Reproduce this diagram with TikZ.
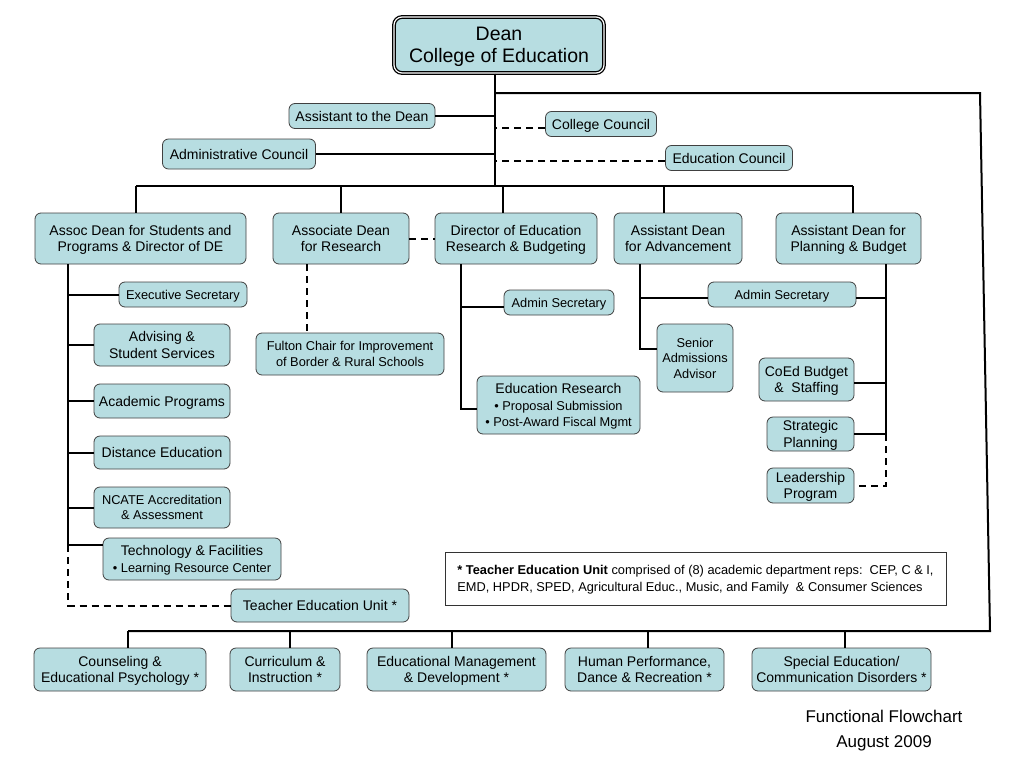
\documentclass[tikz,border=0pt]{standalone}
\usepackage{fontspec}
\setmainfont{Liberation Sans}

\definecolor{boxblue}{RGB}{183,221,225}
\newcommand{\bodysize}{\fontsize{14}{16.5}\selectfont}
\newcommand{\smallsize}{\fontsize{12.8}{15.5}\selectfont}

\tikzset{
  unit/.style={draw=black!75, line width=0.8pt, fill=boxblue, rounded corners=6pt,
    align=center, inner sep=1pt, text depth=-1.5pt, font=\bodysize},
  smallunit/.style={unit, font=\smallsize},
  boxsize/.style 2 args={minimum width=#1pt, minimum height=#2pt},
  link/.style={line width=2pt},
  dashlink/.style={link, dash pattern=on 7pt off 5pt},
}

\begin{document}
\begin{tikzpicture}[x=1pt,y=-1pt]
\useasboundingbox (0,0) rectangle (1024,768);

\node[unit, boxsize={210}{56}, draw=black, line width=1.3pt, double=white,
  double distance=1.2pt, rounded corners=8pt,
  font=\fontsize{19.5}{22}\selectfont] (dean) at (499,45) {Dean\\College of Education};

\node[unit, boxsize={146}{25}] (asst) at (362,116) {Assistant to the Dean};
\node[unit, boxsize={111}{25}] (college) at (601,124) {College Council};
\node[unit, boxsize={153}{30}] (admin) at (239,154) {Administrative Council};
\node[unit, boxsize={127}{25}] (council) at (729,158) {Education Council};

% second row
\node[unit, boxsize={211}{51}] (students) at (140.5,238.5) {Assoc Dean for Students and\\Programs \& Director of DE};
\node[unit, boxsize={136}{51}] (research) at (341,238.5) {Associate Dean\\for Research};
\node[unit, boxsize={162}{51}] (budgeting) at (516,238.5) {Director of Education\\Research \& Budgeting};
\node[unit, boxsize={128}{51}] (advance) at (678,238.5) {Assistant Dean\\for Advancement};
\node[unit, boxsize={145}{51}] (planning) at (848.5,238.5) {Assistant Dean for\\Planning \& Budget};

% students and programs
\node[smallunit, boxsize={128}{25}] (exsec) at (183,294.5) {Executive Secretary};
\node[unit, boxsize={136}{42}] (advising) at (162,345) {Advising \&\\Student Services};
\node[unit, boxsize={136}{34}] (academic) at (162,401) {Academic Programs};
\node[unit, boxsize={136}{33}] (distance) at (162,452.5) {Distance Education};
\node[smallunit, boxsize={136}{41}] (ncate) at (162,507.5) {NCATE Accreditation\\\& Assessment};
\node[unit, boxsize={178}{42}] (tech) at (192,559) {Technology \& Facilities\\{\smallsize\textbullet\ Learning Resource Center}};
\node[unit, boxsize={178}{33}] (teu) at (320,605.5) {Teacher Education Unit *};

% research
\node[smallunit, boxsize={188}{42}] (fulton) at (350,354) {Fulton Chair for Improvement\\of Border \& Rural Schools};

% education research
\node[smallunit, boxsize={110}{25}] (dsec) at (559,302.5) {Admin Secretary};
\node[unit, boxsize={163}{58}] (edres) at (558.5,405) {Education Research\\{\smallsize\textbullet\ Proposal Submission}\\{\smallsize\textbullet\ Post-Award Fiscal Mgmt}};

% advancement, planning
\node[smallunit, boxsize={148}{25}] (psec) at (782,294.5) {Admin Secretary};
\node[smallunit, boxsize={76}{68}] (senior) at (695,358) {Senior\\Admissions\\Advisor};
\node[unit, boxsize={95}{43}] (coed) at (806.5,379.5) {CoEd Budget\\\&\ \ Staffing};
\node[unit, boxsize={87}{34}] (strat) at (810.5,434) {Strategic\\Planning};
\node[unit, boxsize={87}{35}] (lead) at (810.5,485.5) {Leadership\\Program};

% note
\node[draw=black!80, line width=0.8pt, fill=white, boxsize={501}{53}, align=left,
  text depth=-1.5pt, font=\fontsize{12.8}{17}\selectfont] (note) at (695.5,578.5)
  {\textbf{* Teacher Education Unit} comprised of (8) academic department reps:\ \ CEP, C \& I,\\
   EMD, HPDR, SPED, Agricultural Educ., Music, and Family\ \ \& Consumer Sciences};

% departments
\node[unit, boxsize={172}{43}] (cep) at (120,669.5) {Counseling \&\\Educational Psychology *};
\node[unit, boxsize={110}{43}] (ci) at (285,669.5) {Curriculum \&\\Instruction *};
\node[unit, boxsize={179}{43}] (emd) at (456.5,669.5) {Educational Management\\\& Development *};
\node[unit, boxsize={159}{43}] (hpdr) at (644.5,669.5) {Human Performance,\\Dance \& Recreation *};
\node[unit, boxsize={179}{43}] (sped) at (841.5,669.5) {Special Education/\\Communication Disorders *};

\node[align=center, font=\fontsize{17}{25}\selectfont] (footer) at (884,731) {Functional Flowchart\\August 2009};

% dean lines
\coordinate (trunk) at (495,186);
\coordinate (loop) at (980,93);
\coordinate (loopend) at (990,631);
\coordinate (bbus) at (128,631);
\draw[link] (dean.south -| trunk) -- (trunk);
\draw[link] (asst.east) -- (asst.east -| trunk);
\draw[link] (admin.east) -- (admin.east -| trunk);
\draw[dashlink] ([yshift=-4pt]college.west) -- ([yshift=-4pt]college.west -| trunk);
\draw[dashlink] ([yshift=-3pt]council.west) -- ([yshift=-3pt]council.west -| trunk);
\draw[link] (trunk |- loop) -- (loop) -- (loopend) -- (bbus);

\draw[link] (136,186) coordinate (busL) -- (853,186) coordinate (busR);
\foreach \n/\x in {students/136, research/341, budgeting/503, advance/664, planning/853}{
  \coordinate (drop) at (\x,186);
  \draw[link] (drop) -- (drop |- \n.north);
}
\foreach \n/\x in {cep/128, ci/290, emd/452, hpdr/648, sped/845}{
  \coordinate (drop) at (\x,631);
  \draw[link] (drop) -- (drop |- \n.north);
}

% left column
\coordinate (lcol) at (68,545);
\draw[link] (students.south -| lcol) -- (lcol);
\foreach \n in {exsec, advising, academic, distance, ncate}
  \draw[link] (\n.west) -- (\n.west -| lcol);
\draw[link] ([yshift=14pt]tech.west) -- ([yshift=14pt]tech.west -| lcol);
\draw[dashlink] (lcol) -- (lcol |- teu.west) -- (teu.west);

% research
\coordinate (rcol) at (307,300);
\draw[dashlink] (research.south -| rcol) -- (fulton.north -| rcol);
\draw[dashlink] (research.east) -- (budgeting.west);

% director
\coordinate (dcol) at (461,300);
\draw[link] (budgeting.south -| dcol) -- ([yshift=-4pt]edres.west -| dcol) -- ([yshift=-4pt]edres.west);
\draw[link] ([yshift=-4.5pt]dsec.west) -- ([yshift=-4.5pt]dsec.west -| dcol);

% advancement
\coordinate (acol) at (640,300);
\draw[link] (advance.south -| acol) -- ([yshift=9pt]senior.west -| acol) -- ([yshift=9pt]senior.west);
\draw[link] ([yshift=-3pt]psec.west) -- ([yshift=-3pt]psec.west -| acol);

% planning
\coordinate (pcol) at (886,300);
\draw[link] (planning.south -| pcol) -- (strat.east -| pcol) -- (strat.east);
\draw[link] ([yshift=-3pt]psec.east) -- ([yshift=-3pt]psec.east -| pcol);
\draw[link] ([yshift=-3.5pt]coed.east) -- ([yshift=-3.5pt]coed.east -| pcol);
\draw[dashlink] (strat.east -| pcol) -- (lead.east -| pcol) -- (lead.east);

\end{tikzpicture}
\end{document}
